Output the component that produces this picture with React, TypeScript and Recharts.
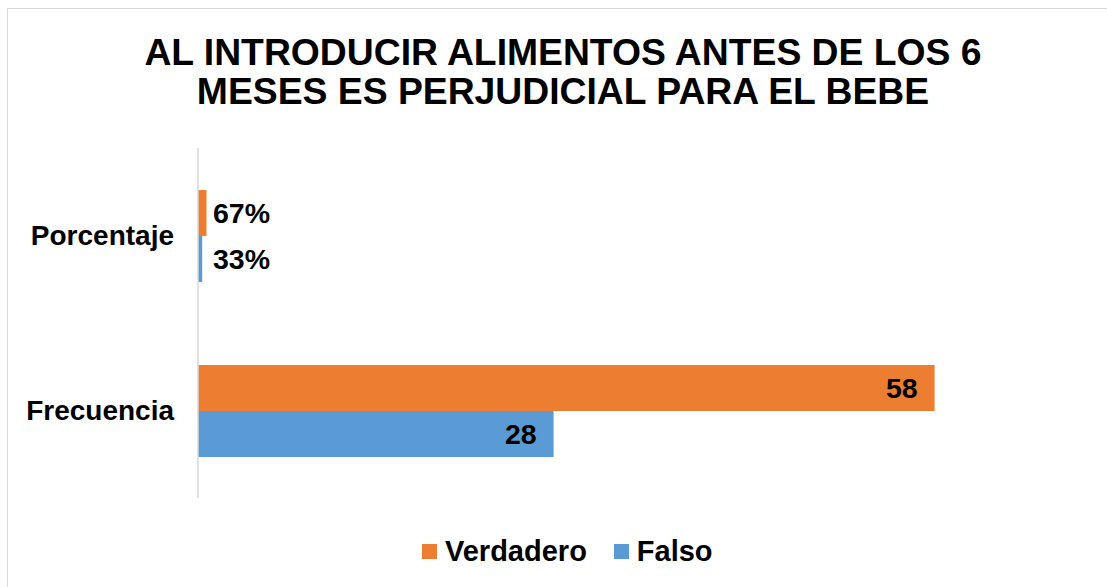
import React from 'react';
import { BarChart, Bar, XAxis, YAxis, Legend, LabelList } from 'recharts';

// values (porcentaje kept as fractions, shown as %)
const categories = ['Porcentaje', 'Frecuencia'];
const verdadero = [0.67, 58];
const falso = [0.33, 28];
const seriesNames = ['Verdadero', 'Falso'];
const seriesColors = ['#ED7D31', '#5B9BD5'];

const data = categories.map((name, i) => ({
  name,
  Verdadero: verdadero[i],
  Falso: falso[i],
}));

const FONT = '"Liberation Sans", Arial, sans-serif';

const renderLabel = (props: any) => {
  const { x, y, width, height, value } = props;
  const text = value < 1 ? `${Math.round(value * 100)}%` : String(value);
  const inside = width > 60;
  return (
    <text
      x={inside ? x + width - 17 : x + 15}
      y={y + height / 2}
      dy="0.36em"
      textAnchor={inside ? 'end' : 'start'}
      fontSize={28.5}
      fontWeight="bold"
      fontFamily={FONT}
      fill="#000"
    >
      {text}
    </text>
  );
};

const renderLegend = () => (
  <div style={{ display: 'flex', alignItems: 'center', fontFamily: FONT, fontWeight: 'bold', fontSize: 29, lineHeight: '32px', color: '#000' }}>
    {seriesNames.map((s, i) => (
      <div key={s} style={{ display: 'flex', alignItems: 'center', marginRight: 27 }}>
        <span style={{ width: 15, height: 15, background: seriesColors[i], marginRight: 8, display: 'inline-block' }} />
        <span>{s}</span>
      </div>
    ))}
  </div>
);

export default function App() {
  return (
    <div style={{ position: 'fixed', left: 0, top: 0, width: 1107, height: 587, overflow: 'hidden', background: '#fff' }}>
      <div style={{ position: 'absolute', left: 7, top: 8, width: 1200, height: 700, border: '1px solid #d9d9d9' }} />
      <div
        style={{
          position: 'absolute',
          left: 0,
          top: 33,
          width: 1126,
          textAlign: 'center',
          fontFamily: FONT,
          fontWeight: 'bold',
          fontSize: 37.3,
          lineHeight: '39px',
          color: '#000',
        }}
      >
        AL INTRODUCIR ALIMENTOS ANTES DE LOS 6
        <br />
        MESES ES PERJUDICIAL PARA EL BEBE
      </div>
      <div style={{ position: 'absolute', left: 0, top: 0 }}>
        <BarChart
          width={1107}
          height={587}
          data={data}
          layout="vertical"
          margin={{ top: 148, right: 20, bottom: 89, left: 0 }}
          barGap={0}
        >
          <XAxis type="number" domain={[0, 70]} hide />
          <YAxis
            type="category"
            dataKey="name"
            width={198}
            axisLine={{ stroke: '#d9d9d9', strokeWidth: 1.5 }}
            tickLine={false}
            tickSize={0}
            tickMargin={24}
            tick={{ fontSize: 28, fontWeight: 'bold', fill: '#000', fontFamily: FONT }}
          />
          <Legend
            layout="horizontal"
            verticalAlign="middle"
            align="center"
            content={renderLegend}
            wrapperStyle={{ top: 535, left: 422, width: 400, height: 32 }}
          />
          {seriesNames.map((s, i) => (
            <Bar key={s} dataKey={s} fill={seriesColors[i]} barSize={46} isAnimationActive={false}>
              <LabelList dataKey={s} content={renderLabel} />
            </Bar>
          ))}
        </BarChart>
      </div>
    </div>
  );
}
